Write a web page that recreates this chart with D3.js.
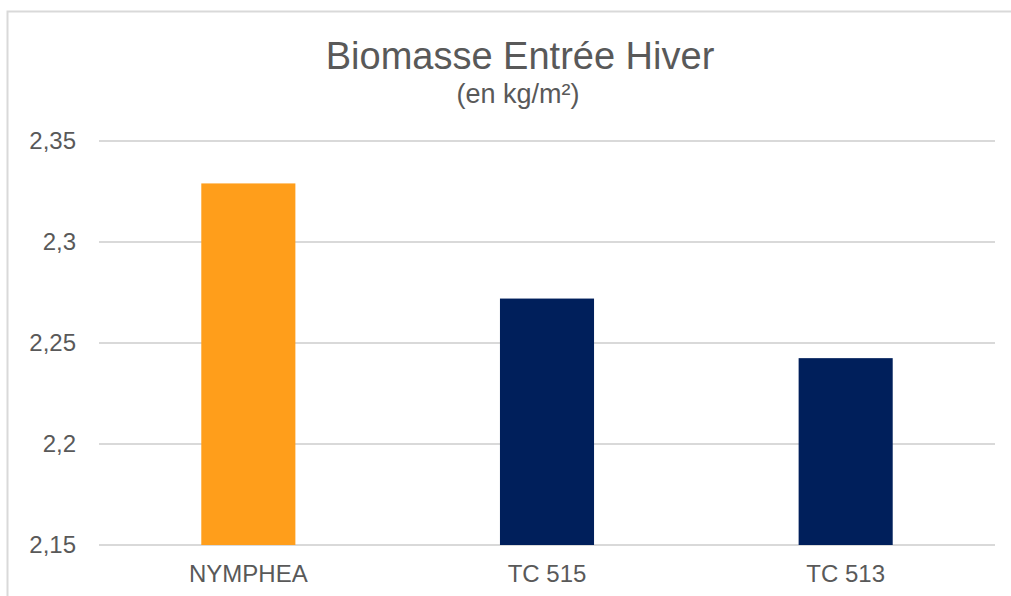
<!DOCTYPE html>
<html>
<head>
<meta charset="utf-8">
<script src="https://cdn.jsdelivr.net/npm/d3@7"></script>
<style>
  body { margin: 0; background: #fff; }
  text { font-family: "Liberation Sans", Arial, sans-serif; fill: #595959; }
</style>
</head>
<body>
<div id="chart"></div>
<script>
const categories = ["NYMPHEA", "TC 515", "TC 513"];
const values = [2.329, 2.272, 2.2425];
const barColors = ["#ff9e1b", "#001f5b", "#001f5b"];
const yTicks = [2.15, 2.2, 2.25, 2.3, 2.35];

const width = 1011, height = 596;
const margin = { top: 141, right: 16, bottom: 51, left: 99 };

const svg = d3.select('#chart').append('svg')
    .attr('width', width)
    .attr('height', height);

// chart frame (only top and left visible)
svg.append('path')
    .attr('d', `M7.5,${height} V11.5 H${width}`)
    .attr('fill', 'none')
    .attr('stroke', '#d9d9d9')
    .attr('stroke-width', 2);

const x = d3.scaleBand()
    .domain(categories)
    .range([margin.left, width - margin.right])
    .paddingInner(0.685)
    .paddingOuter(0.3425);

const y = d3.scaleLinear()
    .domain([2.15, 2.35])
    .range([height - margin.bottom, margin.top]);

// gridlines
svg.append('g')
    .selectAll('line')
    .data(yTicks)
    .enter()
    .append('line')
    .attr('x1', margin.left)
    .attr('x2', width - margin.right)
    .attr('y1', d => y(d))
    .attr('y2', d => y(d))
    .attr('stroke', '#d9d9d9')
    .attr('stroke-width', 2);

// bars
svg.append('g')
    .selectAll('rect')
    .data(categories)
    .enter()
    .append('rect')
    .attr('x', d => x(d))
    .attr('y', (d, i) => y(values[i]))
    .attr('width', x.bandwidth())
    .attr('height', (d, i) => y(2.15) - y(values[i]))
    .attr('fill', (d, i) => barColors[i]);

// y axis labels
const yAxis = svg.append('g')
    .attr('transform', `translate(${margin.left},0)`)
    .call(d3.axisLeft(y).tickValues(yTicks).tickSize(0).tickPadding(23)
        .tickFormat(d => String(d).replace('.', ',')));
yAxis.select('.domain').remove();
yAxis.selectAll('text')
    .attr('font-size', '24px')
    .attr('font-family', '"Liberation Sans", Arial, sans-serif')
    .attr('fill', '#595959');

// x axis labels
const xAxis = svg.append('g')
    .attr('transform', `translate(0,${height - margin.bottom})`)
    .call(d3.axisBottom(x).tickSize(0).tickPadding(20));
xAxis.select('.domain').remove();
xAxis.selectAll('text')
    .attr('font-size', '24px')
    .attr('font-family', '"Liberation Sans", Arial, sans-serif')
    .attr('fill', '#595959');

// title
svg.append('text')
    .attr('x', 520)
    .attr('y', 69)
    .attr('text-anchor', 'middle')
    .attr('font-size', '38px')
    .text('Biomasse Entrée Hiver');

svg.append('text')
    .attr('x', 518)
    .attr('y', 103)
    .attr('text-anchor', 'middle')
    .attr('font-size', '27px')
    .text('(en kg/m²)');
</script>
</body>
</html>
